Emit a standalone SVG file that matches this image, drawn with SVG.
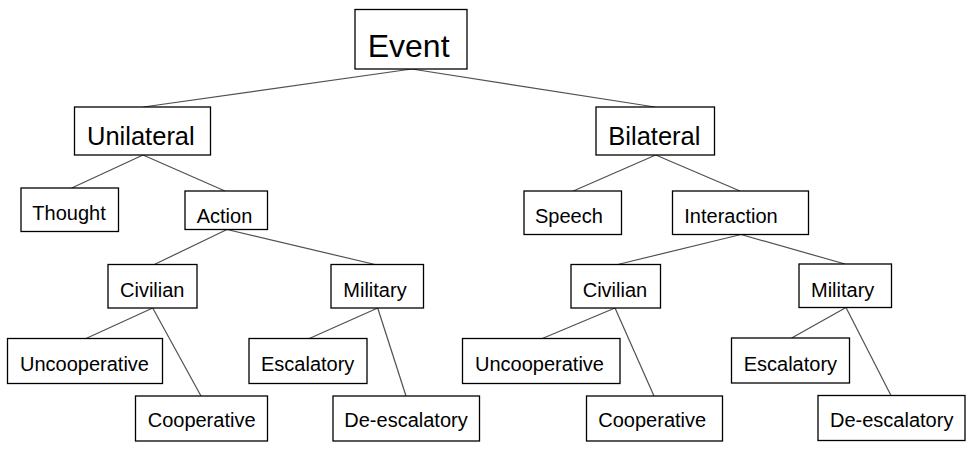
<svg xmlns="http://www.w3.org/2000/svg" width="975" height="451" viewBox="0 0 975 451">
<style>
.box{fill:#fff;stroke:#000;stroke-width:1.3}
.t{font-family:"Liberation Sans",Arial,sans-serif;font-size:20px;fill:#000}
.m{font-size:25.5px}
.l{font-size:32px}
#connectors line{stroke:#505050;stroke-width:1.2}
</style>
<rect width="975" height="451" fill="#fff"/>
<g id="connectors">
<line x1="411.7" y1="69" x2="143.3" y2="107"/>
<line x1="411.7" y1="69" x2="655" y2="107"/>
<line x1="143" y1="155" x2="71.7" y2="188"/>
<line x1="143" y1="155" x2="225" y2="191"/>
<line x1="655.7" y1="155" x2="573.3" y2="191"/>
<line x1="655.7" y1="155" x2="740" y2="191"/>
<line x1="227" y1="229.5" x2="154.3" y2="264.5"/>
<line x1="227" y1="229.5" x2="375" y2="264.5"/>
<line x1="741" y1="234.5" x2="617.7" y2="264.5"/>
<line x1="741" y1="234.5" x2="845" y2="264"/>
<line x1="152.7" y1="308" x2="86" y2="338.5"/>
<line x1="152.7" y1="308" x2="201" y2="396"/>
<line x1="377.7" y1="308" x2="309.3" y2="338.5"/>
<line x1="377.7" y1="308" x2="406" y2="396"/>
<line x1="615" y1="308" x2="542.3" y2="338.5"/>
<line x1="615" y1="308" x2="654" y2="396"/>
<line x1="846" y1="307.5" x2="791.7" y2="338"/>
<line x1="846" y1="307.5" x2="891" y2="395.5"/>
</g>
<g id="event"><rect class="box" x="355" y="9.5" width="112" height="59.5"/><text class="t l" x="367.7" y="57">Event</text></g>
<g id="unilateral"><rect class="box" x="74.5" y="107" width="136" height="48"/><text class="t m" x="87" y="145">Unilateral</text></g>
<g id="bilateral"><rect class="box" x="596" y="107" width="118.5" height="48"/><text class="t m" x="608.3" y="145">Bilateral</text></g>
<g id="thought"><rect class="box" x="21" y="188" width="97.5" height="43.5"/><text class="t" x="32.3" y="220">Thought</text></g>
<g id="action"><rect class="box" x="185" y="191" width="82.5" height="38.5"/><text class="t" x="196.7" y="222.7">Action</text></g>
<g id="speech"><rect class="box" x="524" y="191" width="97.5" height="43.5"/><text class="t" x="535" y="222.7">Speech</text></g>
<g id="interaction"><rect class="box" x="672.5" y="191" width="136" height="43.5"/><text class="t" x="684.3" y="222.7">Interaction</text></g>
<g id="civilian-l"><rect class="box" x="108" y="264.5" width="89" height="43.5"/><text class="t" x="120" y="297.3">Civilian</text></g>
<g id="military-l"><rect class="box" x="331" y="264.5" width="92.5" height="43.5"/><text class="t" x="343.3" y="297.3">Military</text></g>
<g id="civilian-r"><rect class="box" x="571" y="264.5" width="89.5" height="43.5"/><text class="t" x="582.7" y="297.3">Civilian</text></g>
<g id="military-r"><rect class="box" x="799" y="264" width="92.5" height="43.5"/><text class="t" x="811" y="297">Military</text></g>
<g id="uncooperative-l"><rect class="box" x="7.5" y="338.5" width="155" height="45"/><text class="t" x="20" y="370.7">Uncooperative</text></g>
<g id="cooperative-l"><rect class="box" x="135.5" y="396" width="132" height="45"/><text class="t" x="147.7" y="427.3">Cooperative</text></g>
<g id="escalatory-l"><rect class="box" x="249" y="338.5" width="118" height="45"/><text class="t" x="261" y="370.7">Escalatory</text></g>
<g id="deescalatory-l"><rect class="box" x="333" y="396" width="146.5" height="45"/><text class="t" x="344.3" y="427.3">De-escalatory</text></g>
<g id="uncooperative-r"><rect class="box" x="462.5" y="338.5" width="157.5" height="45"/><text class="t" x="475" y="370.7">Uncooperative</text></g>
<g id="cooperative-r"><rect class="box" x="586.5" y="396" width="136" height="45"/><text class="t" x="598.3" y="427.3">Cooperative</text></g>
<g id="escalatory-r"><rect class="box" x="731.5" y="338" width="118" height="45"/><text class="t" x="743.7" y="370.5">Escalatory</text></g>
<g id="deescalatory-r"><rect class="box" x="818" y="395.5" width="147" height="45"/><text class="t" x="830" y="427">De-escalatory</text></g>
</svg>
